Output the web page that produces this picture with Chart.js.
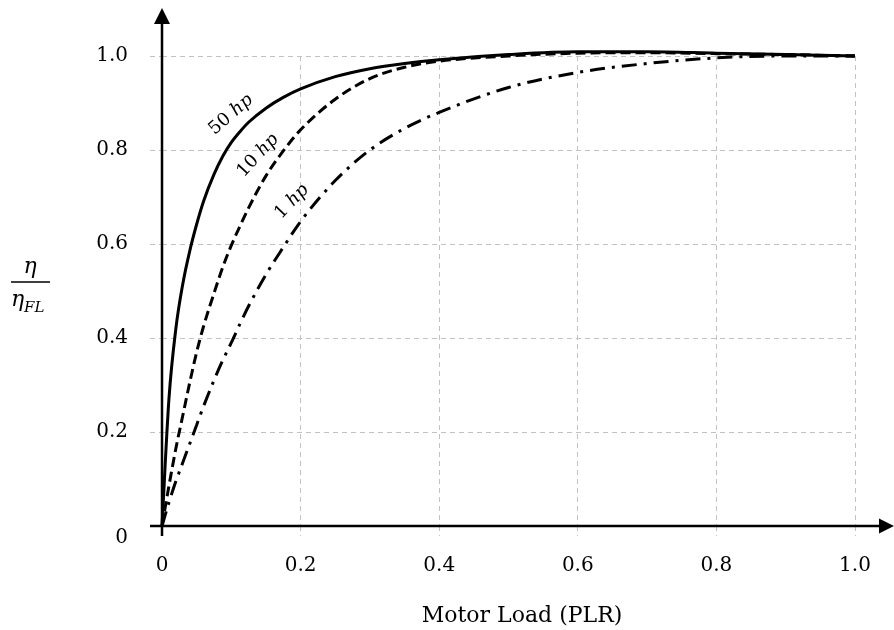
<!DOCTYPE html>
<html>
<head>
<meta charset="utf-8">
<title>Motor part-load efficiency</title>
<script src="https://cdn.jsdelivr.net/npm/chart.js@4"></script>
<style>
    body { margin: 0; background: #fff; }
    canvas { display: block; }
</style>
</head>
<body>
<canvas id="effChart" width="894" height="630"></canvas>
<script>
// Motor load (PLR) sample points
const loadLevels = [0, 0.01, 0.02, 0.03, 0.04, 0.05, 0.06, 0.075, 0.0875, 0.1, 0.1125, 0.125, 0.15, 0.175, 0.2, 0.25, 0.3, 0.35, 0.4, 0.5, 0.6, 0.7, 0.8, 0.9, 1.0];

// eta / eta_FL for each motor size
const eff50hp = [0, 0.27, 0.42, 0.515, 0.585, 0.642, 0.691, 0.748, 0.786, 0.816, 0.839, 0.859, 0.889, 0.912, 0.93, 0.956, 0.973, 0.984, 0.992, 1.003, 1.009, 1.009, 1.006, 1.003, 1.0];
const eff10hp = [0, 0.085, 0.165, 0.235, 0.305, 0.37, 0.425, 0.495, 0.55, 0.597, 0.638, 0.677, 0.745, 0.798, 0.843, 0.908, 0.952, 0.976, 0.989, 1.0, 1.006, 1.007, 1.005, 1.003, 1.0];
const eff1hp  = [0, 0.05, 0.095, 0.135, 0.175, 0.215, 0.255, 0.31, 0.352, 0.39, 0.43, 0.468, 0.535, 0.593, 0.648, 0.735, 0.8, 0.846, 0.88, 0.933, 0.965, 0.984, 0.996, 1.0, 1.0];

const xTicks = [0, 0.2, 0.4, 0.6, 0.8, 1.0];
const yTicks = [0, 0.2, 0.4, 0.6, 0.8, 1.0];

// curve labels: text, position (data units), rotation (deg)
const curveLabels = [
    { num: '50 ', x: 0.0996, y: 0.875, angle: -41 },
    { num: '10 ', x: 0.1385, y: 0.788, angle: -47 },
    { num: '1 ',  x: 0.1876, y: 0.690, angle: -46 }
];

const SERIF = '"DejaVu Serif", serif';
const GRID = '#c2c2c2';

function toPoints(ys) {
    return loadLevels.map((x, i) => ({ x: x, y: ys[i] }));
}

function fmt(v) {
    return v === 0 ? '0' : v.toFixed(1);
}

// axes with arrows, y label, x title, curve labels
const decorations = {
    id: 'decorations',
    afterDraw(chart) {
        const ctx = chart.ctx;
        const xs = chart.scales.x, ys = chart.scales.y;
        const x0 = xs.getPixelForValue(0);
        const y0 = ys.getPixelForValue(0);

        ctx.save();
        ctx.strokeStyle = '#000';
        ctx.fillStyle = '#000';
        ctx.lineWidth = 2.5;
        ctx.setLineDash([]);

        // y axis
        ctx.beginPath();
        ctx.moveTo(x0, y0 + 10);
        ctx.lineTo(x0, 20);
        ctx.stroke();
        ctx.beginPath();
        ctx.moveTo(x0, 8);
        ctx.lineTo(x0 - 8, 24);
        ctx.lineTo(x0 + 8, 24);
        ctx.closePath();
        ctx.fill();

        // x axis
        ctx.beginPath();
        ctx.moveTo(150, y0);
        ctx.lineTo(882, y0);
        ctx.stroke();
        ctx.beginPath();
        ctx.moveTo(894, y0);
        ctx.lineTo(879, y0 - 7.5);
        ctx.lineTo(879, y0 + 7.5);
        ctx.closePath();
        ctx.fill();

        // y tick "0" sits a bit below the axis
        ctx.font = '20px ' + SERIF;
        ctx.textAlign = 'right';
        ctx.textBaseline = 'middle';
        ctx.fillText('0', x0 - 34, y0 + 12);

        // x axis title
        ctx.font = '22px ' + SERIF;
        ctx.textAlign = 'center';
        ctx.textBaseline = 'alphabetic';
        ctx.fillText('Motor Load (PLR)', 522, 622);

        // y axis label: eta / eta_FL
        ctx.font = 'italic 22px ' + SERIF;
        ctx.textAlign = 'center';
        ctx.fillText('η', 30, 273);
        ctx.lineWidth = 1.5;
        ctx.beginPath();
        ctx.moveTo(11, 282);
        ctx.lineTo(50, 282);
        ctx.stroke();
        ctx.textAlign = 'left';
        ctx.fillText('η', 11, 306);
        ctx.font = 'italic 15px ' + SERIF;
        ctx.fillText('FL', 24, 312);

        // curve labels
        curveLabels.forEach(lab => {
            const px = xs.getPixelForValue(lab.x);
            const py = ys.getPixelForValue(lab.y);
            ctx.save();
            ctx.translate(px, py);
            ctx.rotate(lab.angle * Math.PI / 180);
            ctx.font = '18px ' + SERIF;
            const w1 = ctx.measureText(lab.num).width;
            ctx.font = 'italic 18px ' + SERIF;
            const w2 = ctx.measureText('hp').width;
            const start = -(w1 + w2) / 2;
            ctx.textAlign = 'left';
            ctx.textBaseline = 'middle';
            ctx.font = '18px ' + SERIF;
            ctx.fillText(lab.num, start, 0);
            ctx.font = 'italic 18px ' + SERIF;
            ctx.fillText('hp', start + w1, 0);
            ctx.restore();
        });

        ctx.restore();
    }
};

function makeDataset(label, ys, dash) {
    return {
        label: label,
        data: toPoints(ys),
        borderColor: '#000',
        borderWidth: 3,
        borderDash: dash,
        borderCapStyle: 'butt',
        pointRadius: 0,
        fill: false,
        cubicInterpolationMode: 'monotone',
        clip: false
    };
}

const ctx = document.getElementById('effChart').getContext('2d');
new Chart(ctx, {
    type: 'line',
    data: {
        datasets: [
            makeDataset('50 hp', eff50hp, []),
            makeDataset('10 hp', eff10hp, [10, 5]),
            makeDataset('1 hp', eff1hp, [15, 7, 3, 7])
        ]
    },
    options: {
        responsive: false,
        animation: false,
        devicePixelRatio: 1,
        layout: { padding: { left: 0, right: 39, top: 56, bottom: 0 } },
        plugins: {
            legend: { display: false },
            tooltip: { enabled: false }
        },
        scales: {
            x: {
                type: 'linear',
                min: 0,
                max: 1,
                afterBuildTicks: scale => { scale.ticks = xTicks.map(v => ({ value: v })); },
                afterFit: scale => { scale.height = 104; },
                ticks: {
                    color: '#000',
                    font: { family: SERIF, size: 20 },
                    padding: 18,
                    maxRotation: 0,
                    callback: v => fmt(v)
                },
                grid: {
                    color: GRID,
                    lineWidth: 1,
                    tickLength: 10,
                    tickColor: GRID,
                    tickBorderDash: [5, 4]
                },
                border: { display: false, dash: [5, 4] }
            },
            y: {
                min: 0,
                max: 1,
                afterBuildTicks: scale => { scale.ticks = yTicks.map(v => ({ value: v })); },
                afterFit: scale => { scale.width = 162; },
                ticks: {
                    color: '#000',
                    font: { family: SERIF, size: 20 },
                    padding: 22,
                    callback: v => (v === 0 ? '' : fmt(v))
                },
                grid: {
                    color: GRID,
                    lineWidth: 1,
                    tickLength: 12,
                    tickColor: GRID,
                    tickBorderDash: [5, 4]
                },
                border: { display: false, dash: [5, 4] }
            }
        }
    },
    plugins: [decorations]
});
</script>
</body>
</html>
